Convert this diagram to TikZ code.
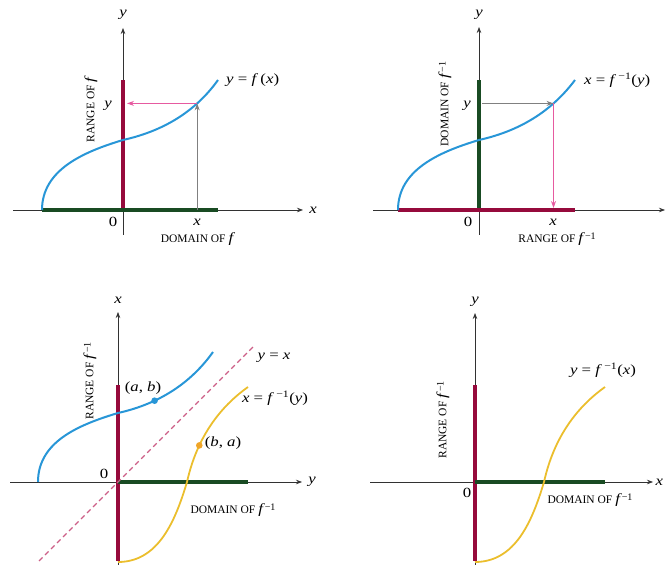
\documentclass[tikz,border=0pt]{standalone}
\usepackage{fontspec}
\setmainfont{Liberation Serif}
\newfontfamily\mlfont[FakeStretch=1.2]{Liberation Serif}
\usetikzlibrary{arrows.meta}
\definecolor{curveblue}{RGB}{40,150,215}
\definecolor{barred}{RGB}{150,10,60}
\definecolor{bargreen}{RGB}{25,75,35}
\definecolor{arrowpink}{RGB}{230,90,160}
\definecolor{curveyellow}{RGB}{235,190,45}
\definecolor{dotorange}{RGB}{240,165,40}
\definecolor{dashpink}{RGB}{205,95,135}
\definecolor{axisgrey}{RGB}{50,50,50}
\newcommand\mv[1]{\textit{#1}}
\newcommand\eqsign{\hspace{0.3em}=\hspace{0.3em}}
\newcommand\finvtxt{\mv{f}\,\textsuperscript{−1}}
\newcommand\capf{{\mlfont\fontsize{14}{16}\selectfont\itshape f}}
\newcommand\capfinv{{\mlfont\fontsize{14}{16}\selectfont\itshape f}\,{\fontsize{10}{12}\selectfont\raisebox{0.6ex}{−1}}}
\tikzset{
  axisarrow/.style={draw=axisgrey, line width=0.7pt, -{Stealth[length=6pt,width=4.5pt]}},
  redbar/.style={draw=barred, line width=4pt},
  greenbar/.style={draw=bargreen, line width=4pt},
  bluecurve/.style={draw=curveblue, line width=2pt},
  yellowcurve/.style={draw=curveyellow, line width=1.8pt},
  greyarrow/.style={draw=gray, line width=0.8pt, -{Stealth[length=7pt,width=5pt]}},
  pinkarrow/.style={draw=arrowpink, line width=0.9pt, -{Stealth[length=7pt,width=5pt]}},
  dashline/.style={draw=dashpink, line width=1.1pt, dash pattern=on 5pt off 3.5pt},
  lbl/.style={font=\mlfont\fontsize{14}{16}\selectfont, inner sep=1pt},
  capslbl/.style={font=\fontsize{11.5}{13}\selectfont, inner sep=1pt},
}
\begin{document}
\begin{tikzpicture}[x=1pt,y=1pt]
\useasboundingbox (0,0) rectangle (669,567);
% ---------- Panel 1 ----------
\begin{scope}[shift={(123,357)}]
  \coordinate (O1) at (0,0);
  \coordinate (a1l) at (-110,0); \coordinate (a1r) at (180,0);
  \coordinate (a1b) at (0,-25);  \coordinate (a1t) at (0,182);
  \draw[axisarrow] (a1l) -- (a1r);
  \draw[axisarrow] (a1b) -- (a1t);
  \coordinate (r1a) at (0,0); \coordinate (r1b) at (0,130);
  \coordinate (g1a) at (-81,0); \coordinate (g1b) at (95,0);
  \draw[redbar] (r1a) -- (r1b);
  \draw[greenbar] (g1a) -- (g1b);
  \draw[bluecurve] (-81,0) .. controls (-81,40) and (-40,58) .. (0,70)
     .. controls (45,80) and (75,102) .. coordinate[pos=0.7] (P1) (95,130);
  \draw[greyarrow] (P1 |- O1) -- (P1);
  \draw[pinkarrow] (P1) -- ([xshift=4pt]P1 -| O1);
  \node[lbl] (p1ty) at (0,195) {\mv{y}};
  \node[lbl] (p1rx) at (190,0) {\mv{x}};
  \node[lbl] (p1y) at (-15,104) {\mv{y}};
  \node[lbl] (p1z) at (-10,-12) {0};
  \node[lbl] (p1x) at (74,-12) {\mv{x}};
  \node[capslbl] (p1dom) at (74,-29) {DOMAIN OF \capf};
  \node[capslbl, rotate=90] (p1ran) at (-32,100) {RANGE OF \capf};
  \node[lbl, anchor=west] (p1eq) at (102,130) {\mv{y}\eqsign\mv{f}\,(\mv{x})};
\end{scope}
% ---------- Panel 2 ----------
\begin{scope}[shift={(479,357)}]
  \coordinate (O2) at (0,0);
  \coordinate (a2l) at (-106,0); \coordinate (a2r) at (186,0);
  \coordinate (a2b) at (0,-25);  \coordinate (a2t) at (0,183);
  \draw[axisarrow] (a2l) -- (a2r);
  \draw[axisarrow] (a2b) -- (a2t);
  \coordinate (r2a) at (-81,0); \coordinate (r2b) at (96,0);
  \coordinate (g2a) at (0,0); \coordinate (g2b) at (0,130);
  \draw[greenbar] (g2a) -- (g2b);
  \draw[redbar] (r2a) -- (r2b);
  \draw[bluecurve] (-81,0) .. controls (-81,40) and (-40,58) .. (0,70)
     .. controls (45,80) and (75,102) .. coordinate[pos=0.7] (P2) (96,130);
  \draw[greyarrow] ([xshift=3pt]P2 -| O2) -- (P2);
  \draw[pinkarrow] (P2) -- ([yshift=2pt]P2 |- O2);
  \node[lbl] (p2ty) at (0,195) {\mv{y}};
  \node[lbl] (p2y) at (-12,104) {\mv{y}};
  \node[lbl] (p2z) at (-11,-12) {0};
  \node[lbl] (p2x) at (74,-12) {\mv{x}};
  \node[capslbl] (p2ran) at (78,-29) {RANGE OF \capfinv};
  \node[capslbl, rotate=90] (p2dom) at (-34,106) {DOMAIN OF \capfinv};
  \node[lbl, anchor=west] (p2eq) at (104,130) {\mv{x}\eqsign\finvtxt(\mv{y})};
\end{scope}
% ---------- Panel 3 ----------
\begin{scope}[shift={(118,85)}]
  \coordinate (O3) at (0,0);
  \coordinate (a3l) at (-108,0); \coordinate (a3r) at (184,0);
  \coordinate (a3b) at (0,-83);  \coordinate (a3t) at (0,170);
  \draw[axisarrow] (a3l) -- (a3r);
  \draw[axisarrow] (a3b) -- (a3t);
  \coordinate (r3a) at (0,-79); \coordinate (r3b) at (0,97);
  \coordinate (g3a) at (0,0); \coordinate (g3b) at (130,0);
  \draw[redbar] (r3a) -- (r3b);
  \draw[greenbar] (g3a) -- (g3b);
  \coordinate (d3a) at (-79,-79); \coordinate (d3b) at (137,137);
  \draw[dashline] (d3a) -- (d3b);
  \draw[bluecurve] (-80,0) .. controls (-80,40) and (-40,57) .. (0,69)
     .. controls (45,79) and (75,102) .. coordinate[pos=0.3] (AB) (95,130);
  \draw[yellowcurve] (0,-80) .. controls (40,-80) and (57,-40) .. (69,0)
     .. controls (79,45) and (102,75) .. coordinate[pos=0.3] (BA) (130,95);
  \fill[curveblue] (AB) circle (3.3pt);
  \fill[dotorange] (BA) circle (3.3pt);
  \node[lbl] (p3tx) at (0,182) {\mv{x}};
  \node[lbl] (p3ry) at (194,0) {\mv{y}};
  \node[lbl] (p3z) at (-14,8) {0};
  \node[lbl] (p3ab) at (25,94) {(\mv{a}, \mv{b})};
  \node[lbl] (p3ba) at (105,39) {(\mv{b}, \mv{a})};
  \node[lbl] (p3yx) at (156,124) {\mv{y}\eqsign\mv{x}};
  \node[lbl] (p3eq) at (157,84) {\mv{x}\eqsign\finvtxt(\mv{y})};
  \node[capslbl] (p3dom) at (115,-28) {DOMAIN OF \capfinv};
  \node[capslbl, rotate=90] (p3ran) at (-28,101) {RANGE OF \capfinv};
\end{scope}
% ---------- Panel 4 ----------
\begin{scope}[shift={(475,85)}]
  \coordinate (O4) at (0,0);
  \coordinate (a4l) at (-105,0); \coordinate (a4r) at (178,0);
  \coordinate (a4b) at (0,-83);  \coordinate (a4t) at (0,169);
  \draw[axisarrow] (a4l) -- (a4r);
  \draw[axisarrow] (a4b) -- (a4t);
  \coordinate (r4a) at (0,-79); \coordinate (r4b) at (0,97);
  \coordinate (g4a) at (0,0); \coordinate (g4b) at (130,0);
  \draw[redbar] (r4a) -- (r4b);
  \draw[greenbar] (g4a) -- (g4b);
  \draw[yellowcurve] (0,-80) .. controls (40,-80) and (57,-40) .. (69,0)
     .. controls (79,45) and (102,75) .. (130,95);
  \node[lbl] (p4ty) at (0,180) {\mv{y}};
  \node[lbl, anchor=west, inner sep=0.5pt] (p4rx) at (180,0) {\mv{x}};
  \node[lbl] (p4z) at (-8,-11) {0};
  \node[lbl] (p4eq) at (128,112) {\mv{y}\eqsign\finvtxt(\mv{x})};
  \node[capslbl] (p4dom) at (115,-18) {DOMAIN OF \capfinv};
  \node[capslbl, rotate=90] (p4ran) at (-32,62) {RANGE OF \capfinv};
\end{scope}
\end{tikzpicture}
\end{document}
